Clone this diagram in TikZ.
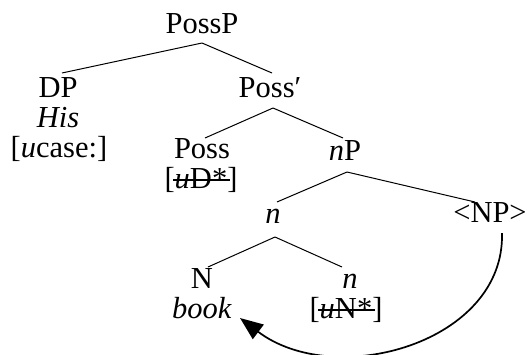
\documentclass[tikz,border=0pt]{standalone}
\usepackage{fontspec}
\setmainfont{Liberation Serif}
\usetikzlibrary{arrows.meta}
\begin{document}
\begin{tikzpicture}[x=1pt,y=-1pt,
  every node/.style={inner sep=0pt, anchor=base, font=\fontsize{30.5}{30}\selectfont},
  edge/.style={line width=1pt},
  strike/.style={line width=1.2pt},
  move/.style={line width=1.7pt, -{Triangle[length=23pt,width=18pt]}}]
\useasboundingbox (0,0) rectangle (527,354);
% nodes
\node (possp)   at (202,33)  {PossP};
\node (dp)      at (58,97)   {DP};
\node (his)     at (58,127)  {\textit{His}};
\node (ucase)   at (59,157)  {[\textit{u}case:]};
\node (possbar) at (270,97)  {Poss′};
\node (poss)    at (202,158) {Poss};
\node (ud)      at (201,188) {[\textit{u}D*]};
\node (np)      at (345,160) {\textit{n}P};
\node (n1)      at (273,223) {\textit{n}};
\node (npt)     at (490,222) {<NP>};
\node (nn)      at (202,288) {N};
\node (book)    at (202,318) {\textit{book}};
\node (n2)      at (350,288) {\textit{n}};
\node (un)      at (346,318) {[\textit{u}N*]};
% strike-outs
\draw[strike] ([shift={(9,-8)}]ud.base west) -- ([shift={(-8,-8)}]ud.base east);
\draw[strike] ([shift={(9,-8)}]un.base west) -- ([shift={(-8,-8)}]un.base east);
% edges
\draw[edge] ([shift={(0,10)}]possp.base) -- ([shift={(4,-24)}]dp.base);
\draw[edge] ([shift={(0,10)}]possp.base) -- ([shift={(2,-24)}]possbar.base);
\draw[edge] ([shift={(3,11)}]possbar.base) -- ([shift={(3,-20)}]poss.base);
\draw[edge] ([shift={(3,11)}]possbar.base) -- ([shift={(-2,-22)}]np.base);
\draw[edge] ([shift={(2,12)}]np.base) -- ([shift={(4,-21)}]n1.base);
\draw[edge] ([shift={(2,12)}]np.base) -- ([shift={(-15,-20)}]npt.base);
\draw[edge] ([shift={(2,14)}]n1.base) -- ([shift={(6,-21)}]nn.base);
\draw[edge] ([shift={(2,14)}]n1.base) -- ([shift={(-8,-21)}]n2.base);
% movement arrow
\draw[move] ([shift={(12,11)}]npt.base) .. controls (505,343) and (335,390) .. ([shift={(38,0)}]book.base);
\end{tikzpicture}
\end{document}
